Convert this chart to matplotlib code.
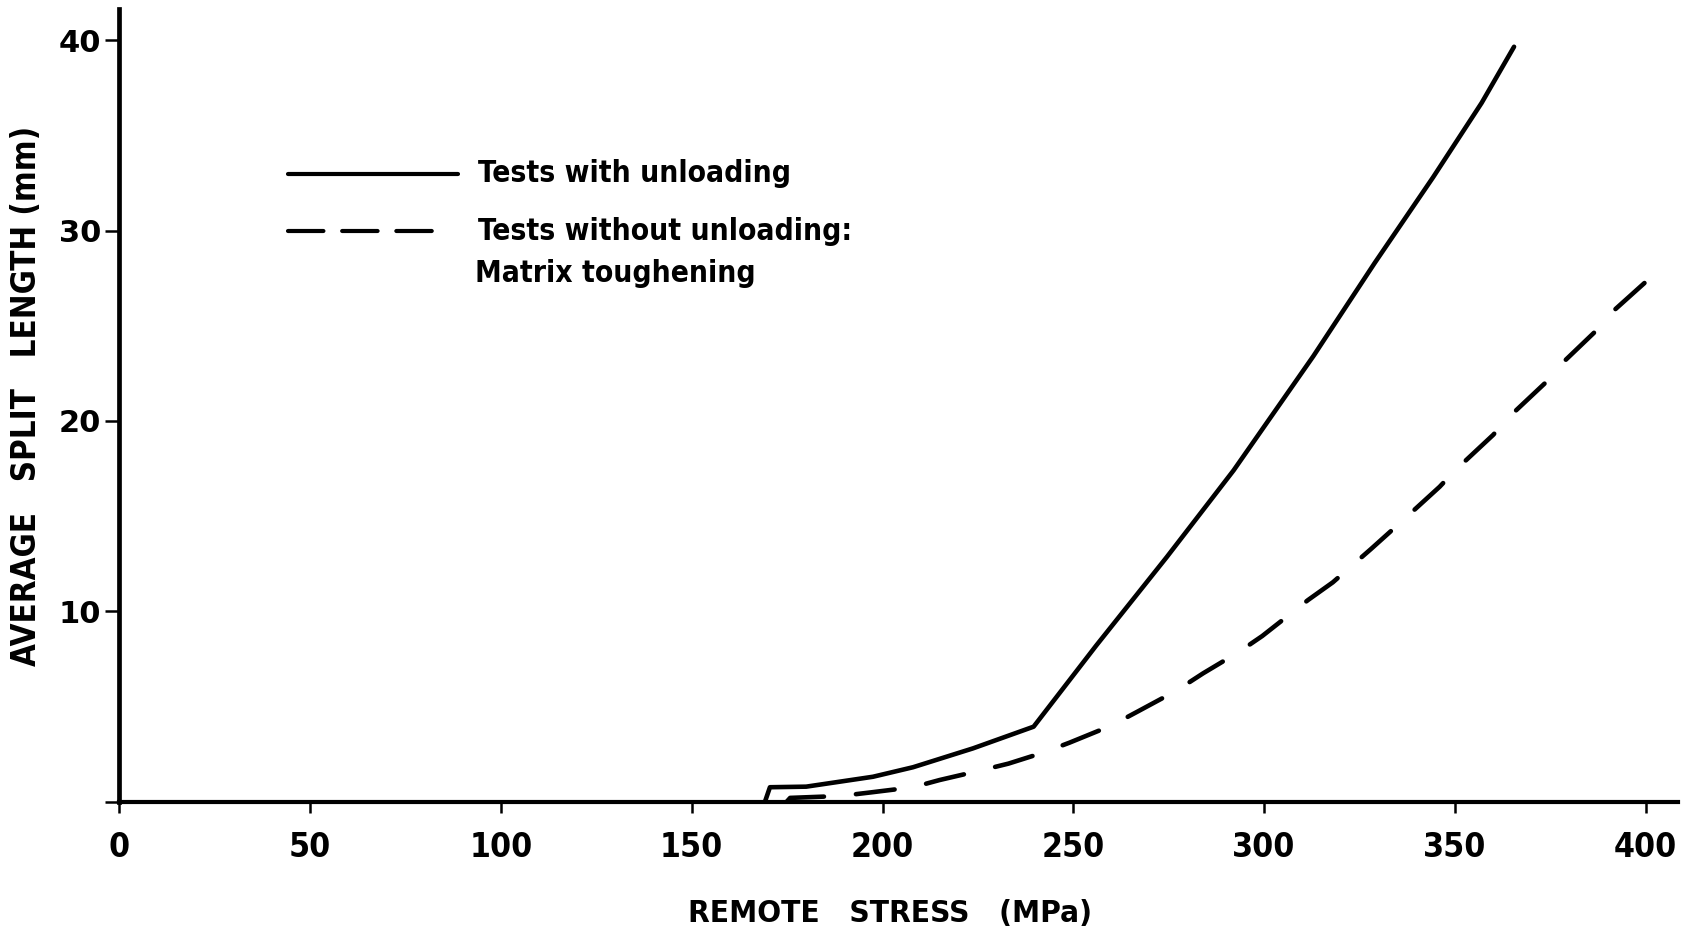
import matplotlib
matplotlib.use("Agg")
import matplotlib.pyplot as plt
from matplotlib import font_manager as fm
from matplotlib.lines import Line2D

# ---- data ----
solid_x = [169.2, 170.5, 180, 197.5, 208, 223.7, 239.6, 256, 274.5, 292,
           312.9, 329, 344.3, 357, 365.5]
solid_y = [0, 0.76, 0.79, 1.31, 1.81, 2.8, 3.94, 8.2, 12.85, 17.4,
           23.4, 28.3, 32.8, 36.7, 39.65]

dash_x = [174.9, 175.8, 189, 197, 208, 215, 225.5, 233, 242, 249, 260, 267, 277,
          284, 293.5, 299.5, 311.5, 318, 328, 335, 346, 350, 360, 365, 374.5, 379,
          387.5, 391, 400]
dash_y = [0, 0.2, 0.3, 0.49, 0.76, 1.14, 1.63, 2.0, 2.57, 3.1, 4.0, 4.75, 5.83,
          6.74, 7.88, 8.7, 10.59, 11.52, 13.27, 14.53, 16.54, 17.39, 19.26, 20.36,
          22.15, 23.2, 24.83, 25.68, 27.3]

x_ticks = [0, 50, 100, 150, 200, 250, 300, 350, 400]
x_ticklabels = ["0", "50", "100", "150", "200", "250", "300", "350", "400"]
y_ticks = [0, 10, 20, 30, 40]
y_ticklabels = ["", "10", "20", "30", "40"]

label_solid = "Tests with unloading"
label_dash_1 = "Tests without unloading:"
label_dash_2 = "Matrix toughening"
xlabel = "REMOTE   STRESS   (MPa)"
ylabel = "AVERAGE   SPLIT   LENGTH (mm)"

# ---- fonts ----
has_cond = any(f.name == "DejaVu Sans" and f.stretch == "condensed"
               for f in fm.fontManager.ttflist)
stretch = "condensed" if has_cond else "normal"
k = 1.1 if has_cond else 1.0
tf = dict(fontfamily="DejaVu Sans", fontweight="bold", fontstretch=stretch)

W, H = 1701, 935
fig = plt.figure(figsize=(W / 100, H / 100), dpi=100)
fig.patch.set_facecolor("white")

x0, y0 = 119.3, 801.7          # pixel position of data origin
sx, sy = 3.816, 19.04          # px per unit
xmax, ymax = 408.5, 41.65
ax = fig.add_axes([x0 / W, (H - y0) / H, xmax * sx / W, ymax * sy / H])
ax.set_xlim(0, xmax)
ax.set_ylim(0, ymax)

ax.plot(solid_x, solid_y, color="black", lw=3.3, solid_joinstyle="round",
        solid_capstyle="round", clip_on=False)
ax.plot(dash_x, dash_y, color="black", lw=3.3, dashes=(8.5, 7),
        dash_capstyle="round", dash_joinstyle="round", clip_on=False)

for s in ["top", "right"]:
    ax.spines[s].set_visible(False)
ax.spines["left"].set_linewidth(3.4)
ax.spines["bottom"].set_linewidth(3.0)

ax.set_xticks(x_ticks)
ax.set_xticklabels(x_ticklabels, fontsize=22 * k, **tf)
ax.set_yticks(y_ticks)
ax.set_yticklabels(y_ticklabels, fontfamily="DejaVu Sans", fontweight="bold", fontsize=22)
ax.tick_params(axis="x", direction="out", length=8, width=1.8, pad=13)
ax.tick_params(axis="y", direction="out", length=10, width=1.8, pad=3)

fig.text(890 / W, 1 - 914 / H, xlabel, ha="center", va="center",
         fontsize=20.5 * k, **tf)
fig.text(27 / W, 1 - 396 / H, ylabel, ha="center", va="center", rotation=90,
         fontsize=21.5 * k, **tf)

# ---- legend ----
fig.add_artist(Line2D([287.5 / W, 457.8 / W], [1 - 173.6 / H, 1 - 173.6 / H],
                      color="black", lw=3.0, solid_capstyle="round"))
fig.add_artist(Line2D([287.5 / W, 439 / W], [1 - 231 / H, 1 - 231 / H],
                      color="black", lw=3.0, dashes=(8.5, 4.5), dash_capstyle="round"))
fig.text(478 / W, 1 - 173.6 / H, label_solid, ha="left", va="center",
         fontsize=19.6 * k, **tf)
fig.text(478 / W, 1 - 231 / H, label_dash_1, ha="left", va="center",
         fontsize=19.6 * k, **tf)
fig.text(475 / W, 1 - 273 / H, label_dash_2, ha="left", va="center",
         fontsize=19.6 * k, **tf)

fig.savefig("out.png", dpi=100, facecolor="white")
